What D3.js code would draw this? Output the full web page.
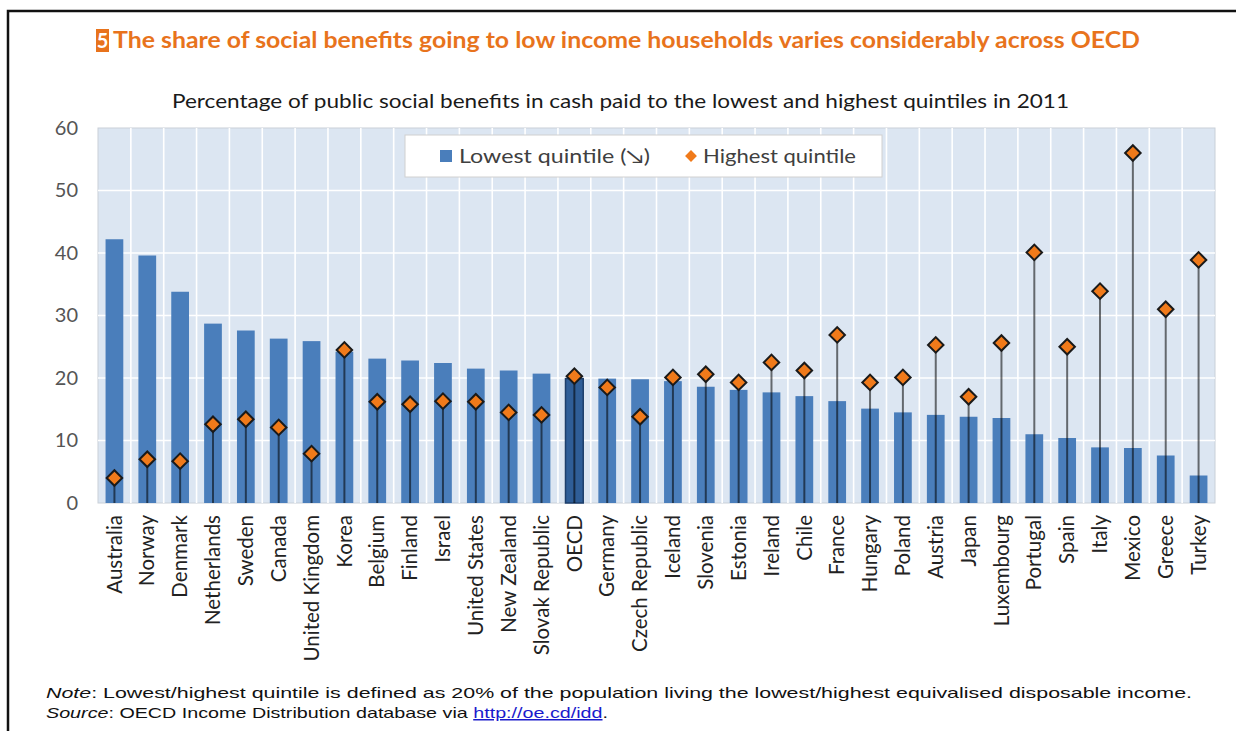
<!DOCTYPE html>
<html>
<head>
<meta charset="utf-8">
<script src="https://cdn.jsdelivr.net/npm/d3@7"></script>
<style>
  body { margin: 0; background: #fff; }
  svg { display: block; }
</style>
</head>
<body>
<div id="chart"></div>
<script>
// data
var countries = ["Australia", "Norway", "Denmark", "Netherlands", "Sweden", "Canada", "United Kingdom",
  "Korea", "Belgium", "Finland", "Israel", "United States", "New Zealand", "Slovak Republic", "OECD",
  "Germany", "Czech Republic", "Iceland", "Slovenia", "Estonia", "Ireland", "Chile", "France", "Hungary",
  "Poland", "Austria", "Japan", "Luxembourg", "Portugal", "Spain", "Italy", "Mexico", "Greece", "Turkey"];

var lowest = [42.2, 39.6, 33.8, 28.7, 27.6, 26.3, 25.9,
  24.2, 23.1, 22.8, 22.4, 21.5, 21.2, 20.7, 19.9,
  19.9, 19.8, 19.5, 18.6, 18.1, 17.7, 17.1, 16.3, 15.1,
  14.5, 14.1, 13.8, 13.6, 11.0, 10.4, 8.9, 8.8, 7.6, 4.4];

var highest = [4.0, 7.0, 6.7, 12.6, 13.4, 12.1, 7.9,
  24.5, 16.2, 15.8, 16.3, 16.2, 14.5, 14.1, 20.3,
  18.5, 13.8, 20.1, 20.6, 19.3, 22.5, 21.2, 26.9, 19.3,
  20.1, 25.3, 17.0, 25.6, 40.1, 25.0, 33.9, 56.0, 31.0, 38.9];

var yTicks = [0, 10, 20, 30, 40, 50, 60];

var width = 1236, height = 731;
var plot = {left: 98, right: 1215, top: 128, bottom: 503};

var svg = d3.select("#chart").append("svg")
  .attr("width", width)
  .attr("height", height);

// page frame (top + left only)
svg.append("path")
  .attr("d", "M8,731 V11 H1236")
  .attr("fill", "none")
  .attr("stroke", "#111")
  .attr("stroke-width", 2.5);

// title
svg.append("rect").attr("x", 96).attr("y", 29).attr("width", 13).attr("height", 23).attr("fill", "#e8731c");
svg.append("text").attr("x", 102.5).attr("y", 48).attr("text-anchor", "middle")
  .style("font-family", "Lato, 'Open Sans', sans-serif").style("font-size", "20px").style("font-weight", "bold")
  .attr("fill", "#fff").text("5");
svg.append("text").attr("x", 113).attr("y", 48)
  .attr("textLength", 1027).attr("lengthAdjust", "spacingAndGlyphs")
  .style("font-family", "Lato, 'Open Sans', sans-serif").style("font-size", "22px").style("font-weight", "bold")
  .attr("fill", "#e8731c")
  .text("The share of social benefits going to low income households varies considerably across OECD");

// subtitle
svg.append("text").attr("x", 172).attr("y", 108)
  .attr("textLength", 897).attr("lengthAdjust", "spacingAndGlyphs")
  .style("font-family", "Lato, 'Open Sans', sans-serif").style("font-size", "19px")
  .attr("fill", "#1a1a1a")
  .text("Percentage of public social benefits in cash paid to the lowest and highest quintiles in 2011");

// scales
var x = d3.scaleBand()
  .domain(countries)
  .range([plot.left, plot.right])
  .padding(0);

var y = d3.scaleLinear()
  .domain([0, 60])
  .range([plot.bottom, plot.top]);

var barW = x.bandwidth() * 0.54;

// plot background
svg.append("rect")
  .attr("x", plot.left).attr("y", plot.top)
  .attr("width", plot.right - plot.left).attr("height", plot.bottom - plot.top)
  .attr("fill", "#dce6f2")
  .attr("stroke", "#c9d0d8");

// white grid
svg.selectAll(".hgrid")
  .data(yTicks.filter(d => d > 0 && d < 60))
  .join("line")
  .attr("x1", plot.left).attr("x2", plot.right)
  .attr("y1", d => y(d)).attr("y2", d => y(d))
  .attr("stroke", "#fff").attr("stroke-width", 1.6);

svg.selectAll(".vgrid")
  .data(countries.slice(1))
  .join("line")
  .attr("x1", d => x(d)).attr("x2", d => x(d))
  .attr("y1", plot.top).attr("y2", plot.bottom)
  .attr("stroke", "#fff").attr("stroke-width", 1.6);

// bars (lowest quintile)
svg.selectAll(".bar")
  .data(countries)
  .join("rect")
  .attr("x", d => x(d) + (x.bandwidth() - barW) / 2)
  .attr("y", (d, i) => y(lowest[i]))
  .attr("width", barW)
  .attr("height", (d, i) => y(0) - y(lowest[i]))
  .attr("fill", d => d == "OECD" ? "#2f5e98" : "#4a7ebb")
  .attr("stroke", d => d == "OECD" ? "#1e3f6b" : "none")
  .attr("stroke-width", 1.5);

// drop lines from highest quintile to 0
svg.selectAll(".drop")
  .data(countries)
  .join("line")
  .attr("x1", d => x(d) + x.bandwidth() / 2)
  .attr("x2", d => x(d) + x.bandwidth() / 2)
  .attr("y1", y(0))
  .attr("y2", (d, i) => y(highest[i]))
  .attr("stroke", "#000").attr("stroke-opacity", 0.55).attr("stroke-width", 2);

// diamonds (highest quintile)
var diamond = d3.symbol().type(d3.symbolSquare).size(120);
svg.selectAll(".dia")
  .data(countries)
  .join("path")
  .attr("d", diamond)
  .attr("transform", (d, i) => "translate(" + (x(d) + x.bandwidth() / 2) + "," + y(highest[i]) + ") rotate(45)")
  .attr("fill", "#f07a1a")
  .attr("stroke", "#1a1a1a")
  .attr("stroke-width", 2);

// y axis
var yAxis = svg.append("g")
  .attr("transform", "translate(" + plot.left + ",0)")
  .call(d3.axisLeft(y).tickValues(yTicks).tickSize(0).tickPadding(20));
yAxis.select(".domain").remove();
yAxis.selectAll("text")
  .style("font-family", "Lato, 'Open Sans', sans-serif").style("font-size", "20px")
  .attr("fill", "#555");

// x axis
var xAxis = svg.append("g")
  .attr("transform", "translate(0," + plot.bottom + ")")
  .call(d3.axisBottom(x).tickSize(0));
xAxis.select(".domain").remove();
xAxis.selectAll("text")
  .attr("transform", "rotate(-90)")
  .attr("text-anchor", "end")
  .attr("x", -12)
  .attr("y", 0)
  .attr("dy", "0.35em")
  .style("font-family", "Lato, 'Open Sans', sans-serif").style("font-size", "20.5px")
  .attr("fill", "#222");

// legend
svg.append("rect").attr("x", 405).attr("y", 135).attr("width", 477).attr("height", 42)
  .attr("fill", "#fff").attr("stroke", "#d0d0d0");
svg.append("rect").attr("x", 440).attr("y", 150).attr("width", 12).attr("height", 12).attr("fill", "#4a7ebb");
svg.append("text").attr("x", 459).attr("y", 163)
  .attr("textLength", 191).attr("lengthAdjust", "spacingAndGlyphs")
  .style("font-family", "Lato, 'Open Sans', sans-serif").style("font-size", "19px")
  .attr("fill", "#404040").text("Lowest quintile (\u2198)");
svg.append("path").attr("d", d3.symbol().type(d3.symbolSquare).size(70))
  .attr("transform", "translate(691,156) rotate(45)")
  .attr("fill", "#f07a1a");
svg.append("text").attr("x", 703).attr("y", 163)
  .attr("textLength", 153).attr("lengthAdjust", "spacingAndGlyphs")
  .style("font-family", "Lato, 'Open Sans', sans-serif").style("font-size", "19px")
  .attr("fill", "#404040").text("Highest quintile");

// notes
var note1 = svg.append("text").attr("x", 46).attr("y", 698)
  .attr("textLength", 1146).attr("lengthAdjust", "spacingAndGlyphs")
  .style("font-family", "'Liberation Sans', Arial, sans-serif").style("font-size", "15px")
  .attr("fill", "#111");
note1.append("tspan").style("font-style", "italic").text("Note");
note1.append("tspan").text(": Lowest/highest quintile is defined as 20% of the population living the lowest/highest equivalised disposable income.");

var note2 = svg.append("text").attr("x", 46).attr("y", 718)
  .attr("textLength", 562).attr("lengthAdjust", "spacingAndGlyphs")
  .style("font-family", "'Liberation Sans', Arial, sans-serif").style("font-size", "15px")
  .attr("fill", "#111");
note2.append("tspan").style("font-style", "italic").text("Source");
note2.append("tspan").text(": OECD Income Distribution database via ");
note2.append("tspan").attr("fill", "#1a1acc").style("text-decoration", "underline").text("http://oe.cd/idd");
note2.append("tspan").text(".");
</script>
</body>
</html>
